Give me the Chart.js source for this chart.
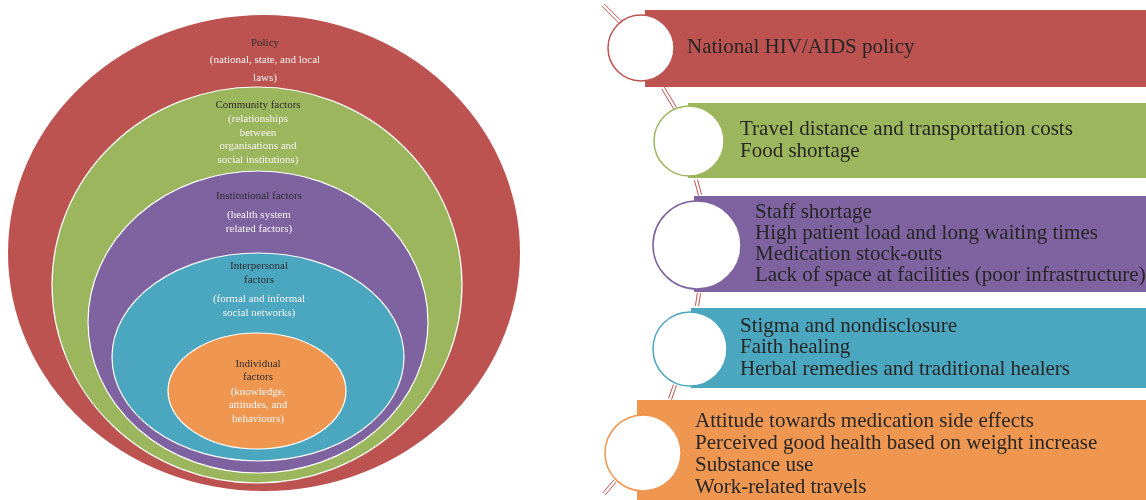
<!DOCTYPE html>
<html>
<head>
<meta charset="utf-8">
<script src="https://cdn.jsdelivr.net/npm/chart.js@4.4.0/dist/chart.umd.min.js"></script>
<style>
html, body { margin: 0; padding: 0; background: #fff; }
canvas { display: block; }
</style>
</head>
<body>
<canvas id="ecoChart" width="1146" height="500"></canvas>
<script>
// levels of the model, outermost first
var levelTitles = [
    ['Policy'],
    ['Community factors'],
    ['Institutional factors'],
    ['Interpersonal', 'factors'],
    ['Individual', 'factors']
];
var levelNotes = [
    ['(national, state, and local', 'laws)'],
    ['(relationships', 'between', 'organisations and', 'social institutions)'],
    ['(health system', 'related factors)'],
    ['(formal and informal', 'social networks)'],
    ['(knowledge,', 'attitudes, and', 'behaviours)']
];
// barriers found at each level
var barriers = [
    ['National HIV/AIDS policy'],
    ['Travel distance and transportation costs', 'Food shortage'],
    ['Staff shortage', 'High patient load and long waiting times', 'Medication stock-outs', 'Lack of space at facilities (poor infrastructure)'],
    ['Stigma and nondisclosure', 'Faith healing', 'Herbal remedies and traditional healers'],
    ['Attitude towards medication side effects', 'Perceived good health based on weight increase', 'Substance use', 'Work-related travels']
];

var colors = ['#bd5350', '#9bb65c', '#7f63a0', '#4ba6bf', '#ef9651'];
var serif = '"Liberation Serif", "DejaVu Serif", serif';

// layout (pixel units of the hidden 0..1146 x 0..500 scales)
var rings = [
    { cx: 264, cy: 253, rx: 256, ry: 238 },
    { cx: 257, cy: 285, rx: 205, ry: 198 },
    { cx: 258, cy: 322, rx: 170, ry: 151 },
    { cx: 258, cy: 357, rx: 146, ry: 104 },
    { cx: 257, cy: 391, rx: 89,  ry: 58 }
];
var titleY = [[43], [105], [196], [266, 280], [364, 377]];
var noteY = [[60, 78], [119, 133, 146, 160], [215, 229], [299, 313], [392, 405, 419]];

var boxes = [
    { x: 645, top: 10,  bottom: 87,  textX: 687, textY: 47,  step: 22 },
    { x: 688, top: 103, bottom: 178, textX: 740, textY: 129, step: 22 },
    { x: 694, top: 196, bottom: 292, textX: 755, textY: 212, step: 21.3 },
    { x: 691, top: 308, bottom: 388, textX: 740, textY: 326, step: 21.5 },
    { x: 637, top: 400, bottom: 500, textX: 695, textY: 421, step: 22 }
];
var markers = [
    { x: 641, y: 48,  r: 33 },
    { x: 689, y: 141, r: 35 },
    { x: 697, y: 245, r: 44 },
    { x: 690, y: 349, r: 37 },
    { x: 643, y: 453, r: 38 }
];
var links = [
    [603, 5, 620, 22], [663, 88, 675, 108], [696, 180, 700, 195],
    [699, 293, 697, 306], [675, 385, 670, 399], [615, 481, 604, 494]
];

var diagramPlugin = {
    id: 'diagram',
    beforeDatasetsDraw: function (chart) {
        var ctx = chart.ctx;
        var sx = chart.scales.x, sy = chart.scales.y;
        var px = function (v) { return sx.getPixelForValue(v); };
        var py = function (v) { return sy.getPixelForValue(v); };
        ctx.save();

        // nested ellipses
        rings.forEach(function (r, i) {
            var cx = px(r.cx), cy = py(r.cy);
            var rx = px(r.cx + r.rx) - cx, ry = py(r.cy + r.ry) - cy;
            ctx.beginPath();
            ctx.ellipse(cx, cy, Math.abs(rx), Math.abs(ry), 0, 0, Math.PI * 2);
            ctx.fillStyle = colors[i];
            ctx.fill();
            if (i > 0) {
                ctx.strokeStyle = '#ffffff';
                ctx.lineWidth = 1.2;
                ctx.stroke();
            }
        });

        ctx.textAlign = 'center';
        ctx.textBaseline = 'middle';
        ctx.font = '11px ' + serif;
        levelTitles.forEach(function (lines, i) {
            ctx.fillStyle = '#2e2e2e';
            lines.forEach(function (t, j) {
                ctx.fillText(t, px(rings[i].cx + 1), py(titleY[i][j]));
            });
            ctx.fillStyle = '#f4f4f4';
            levelNotes[i].forEach(function (t, j) {
                ctx.fillText(t, px(rings[i].cx + 1), py(noteY[i][j]));
            });
        });

        // double-line links between markers
        ctx.strokeStyle = '#c0504d';
        ctx.lineWidth = 1;
        links.forEach(function (l) {
            var x1 = px(l[0]), y1 = py(l[1]), x2 = px(l[2]), y2 = py(l[3]);
            var dx = x2 - x1, dy = y2 - y1, len = Math.sqrt(dx * dx + dy * dy);
            var ox = -dy / len * 1.6, oy = dx / len * 1.6;
            [-1, 1].forEach(function (s) {
                ctx.beginPath();
                ctx.moveTo(x1 + s * ox, y1 + s * oy);
                ctx.lineTo(x2 + s * ox, y2 + s * oy);
                ctx.stroke();
            });
        });

        // barrier boxes
        boxes.forEach(function (b, i) {
            var x0 = px(b.x), y0 = py(b.top), y1 = py(b.bottom);
            ctx.fillStyle = colors[i];
            ctx.fillRect(x0, y0, chart.width - x0, y1 - y0);
            ctx.fillStyle = '#262626';
            ctx.textAlign = 'left';
            ctx.font = '21px ' + serif;
            barriers[i].forEach(function (t, j) {
                ctx.fillText(t, px(b.textX), py(b.textY + j * b.step));
            });
        });
        ctx.restore();
    }
};

var ctxEco = document.getElementById('ecoChart').getContext('2d');
var ecoChart = new Chart(ctxEco, {
    type: 'scatter',
    data: {
        datasets: [{
            label: 'levels',
            data: markers.map(function (m) { return { x: m.x, y: m.y }; }),
            pointRadius: markers.map(function (m) { return m.r; }),
            pointBackgroundColor: '#ffffff',
            pointBorderColor: colors,
            pointBorderWidth: 1.5,
            clip: false
        }]
    },
    options: {
        responsive: false,
        animation: false,
        layout: { padding: 0, autoPadding: false },
        plugins: { legend: { display: false }, tooltip: { enabled: false } },
        events: [],
        scales: {
            x: { type: 'linear', min: 0, max: 1146, display: false },
            y: { type: 'linear', min: 0, max: 500, reverse: true, display: false }
        }
    },
    plugins: [diagramPlugin]
});
</script>
</body>
</html>
